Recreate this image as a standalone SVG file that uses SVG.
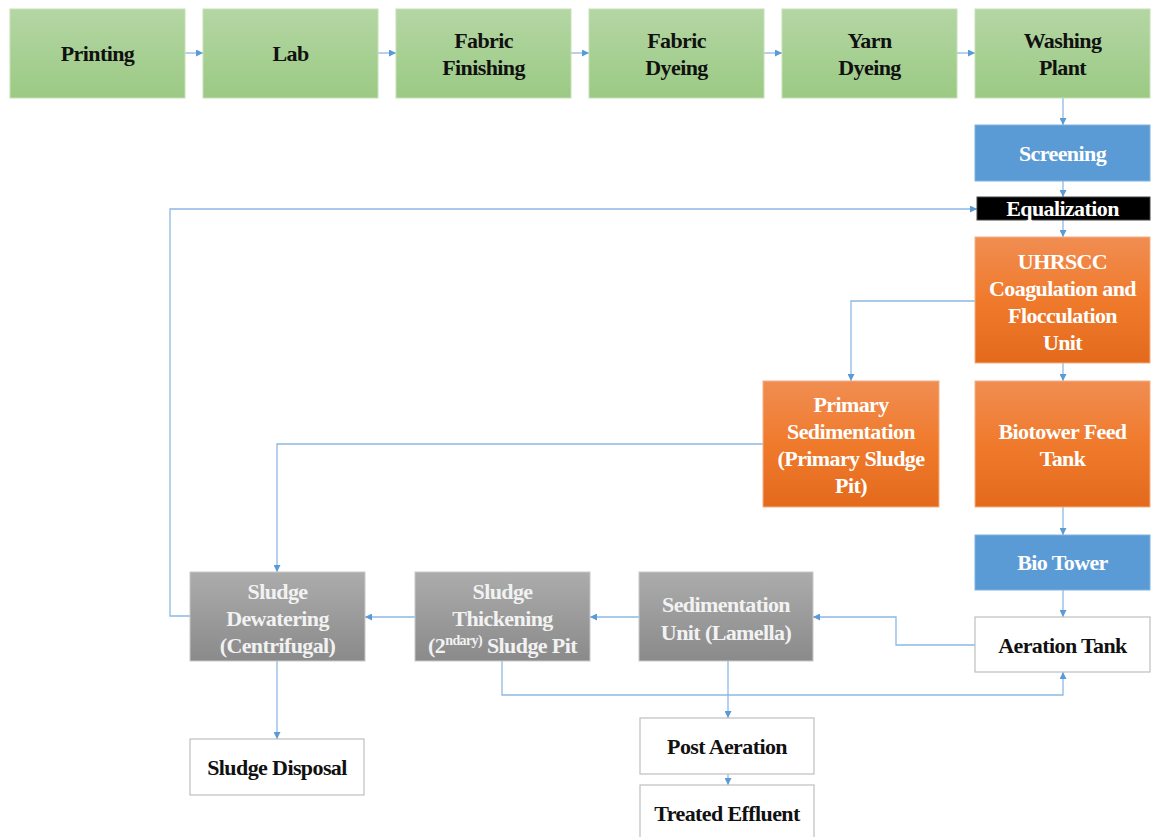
<svg xmlns="http://www.w3.org/2000/svg" width="1151" height="837" viewBox="0 0 1151 837">
  <defs>
    <linearGradient id="gGreen" x1="0" y1="0" x2="0" y2="1">
      <stop offset="0" stop-color="#b4d6a4"/>
      <stop offset="1" stop-color="#9bca84"/>
    </linearGradient>
    <linearGradient id="gOrange" x1="0" y1="0" x2="0" y2="1">
      <stop offset="0" stop-color="#f08d52"/>
      <stop offset="0.5" stop-color="#f07a2c"/>
      <stop offset="1" stop-color="#e36a1c"/>
    </linearGradient>
    <linearGradient id="gGrey" x1="0" y1="0" x2="0" y2="1">
      <stop offset="0" stop-color="#acacac"/>
      <stop offset="1" stop-color="#8a8a8a"/>
    </linearGradient>
    <marker id="arr" viewBox="0 0 10 10" refX="10" refY="5" markerWidth="7" markerHeight="7" orient="auto" markerUnits="userSpaceOnUse">
      <path d="M0,0 L10,5 L0,10 z" fill="#5b9bd5"/>
    </marker>
  </defs>
  <style>
    text { font-family: "Liberation Serif", "Times New Roman", serif; font-weight: bold; font-size: 22px; letter-spacing: -0.6px; text-anchor: middle; }
    .green { fill: url(#gGreen); stroke: #c5e0b4; stroke-width: 1; }
    .blue { fill: #5b9bd5; stroke: #7fb2e0; stroke-width: 1; }
    .orange { fill: url(#gOrange); stroke: #f4b183; stroke-width: 1; }
    .grey { fill: url(#gGrey); stroke: #c8c8c8; stroke-width: 1; }
    .white { fill: #ffffff; stroke: #bfbfbf; stroke-width: 1.2; }
    .black { fill: #000000; stroke: #444; stroke-width: 1; }
    .dark { fill: #111111; }
    .light { fill: #ffffff; }
    .soft { fill: #f2f2f2; }
    .conn { fill: none; stroke: #8db8e3; stroke-width: 1.3; }
    .conn.a { marker-end: url(#arr); }
  </style>

  <!-- connectors -->
  <g id="connectors">
    <line class="conn a" x1="185" y1="53" x2="203" y2="53"/>
    <line class="conn a" x1="378" y1="53" x2="396" y2="53"/>
    <line class="conn a" x1="571" y1="53" x2="589" y2="53"/>
    <line class="conn a" x1="764" y1="53" x2="782" y2="53"/>
    <line class="conn a" x1="957" y1="53" x2="975" y2="53"/>
    <line class="conn a" x1="1063" y1="98" x2="1063" y2="125"/>
    <line class="conn a" x1="1063" y1="181" x2="1063" y2="197"/>
    <line class="conn a" x1="1063" y1="220" x2="1063" y2="237"/>
    <polyline class="conn a" points="190,616 170,616 170,209 977,209"/>
    <polyline class="conn a" points="975,301 851,301 851,381"/>
    <line class="conn a" x1="1063" y1="363" x2="1063" y2="381"/>
    <polyline class="conn a" points="763,444 277,444 277,572"/>
    <line class="conn a" x1="1063" y1="507" x2="1063" y2="535"/>
    <line class="conn a" x1="1063" y1="590" x2="1063" y2="617"/>
    <polyline class="conn a" points="975,645 896,645 896,617 813,617"/>
    <line class="conn a" x1="639" y1="617" x2="590" y2="617"/>
    <line class="conn a" x1="415" y1="617" x2="365" y2="617"/>
    <polyline class="conn a" points="502,661 502,695 1063,695 1063,672"/>
    <line class="conn a" x1="728" y1="661" x2="728" y2="718"/>
    <line class="conn a" x1="277" y1="661" x2="277" y2="739"/>
    <line class="conn a" x1="728" y1="774" x2="728" y2="785"/>
  </g>

  <!-- process units, top row -->
  <g id="printing">
    <rect class="green" x="10" y="9" width="175" height="89"/>
    <text class="dark" x="97.5" y="61">Printing</text>
  </g>
  <g id="lab">
    <rect class="green" x="203" y="9" width="175" height="89"/>
    <text class="dark" x="290.5" y="61">Lab</text>
  </g>
  <g id="fabric-finishing">
    <rect class="green" x="396" y="9" width="175" height="89"/>
    <text class="dark" x="483.5" y="48">Fabric</text>
    <text class="dark" x="483.5" y="75">Finishing</text>
  </g>
  <g id="fabric-dyeing">
    <rect class="green" x="589" y="9" width="175" height="89"/>
    <text class="dark" x="676.5" y="48">Fabric</text>
    <text class="dark" x="676.5" y="75">Dyeing</text>
  </g>
  <g id="yarn-dyeing">
    <rect class="green" x="782" y="9" width="175" height="89"/>
    <text class="dark" x="869.5" y="48">Yarn</text>
    <text class="dark" x="869.5" y="75">Dyeing</text>
  </g>
  <g id="washing-plant">
    <rect class="green" x="975" y="9" width="175" height="89"/>
    <text class="dark" x="1062.5" y="48">Washing</text>
    <text class="dark" x="1062.5" y="75">Plant</text>
  </g>

  <!-- treatment train -->
  <g id="screening">
    <rect class="blue" x="975" y="125" width="175" height="56"/>
    <text class="light" x="1062.5" y="161">Screening</text>
  </g>
  <g id="equalization">
    <rect class="black" x="977" y="197" width="173" height="23"/>
    <text class="light" x="1062.5" y="216">Equalization</text>
  </g>
  <g id="uhrscc">
    <rect class="orange" x="975" y="237" width="175" height="126"/>
    <text class="light" x="1062.5" y="269">UHRSCC</text>
    <text class="light" x="1062.5" y="296">Coagulation and</text>
    <text class="light" x="1062.5" y="323">Flocculation</text>
    <text class="light" x="1062.5" y="350">Unit</text>
  </g>
  <g id="primary-sedimentation">
    <rect class="orange" x="763" y="381" width="176" height="126"/>
    <text class="light" x="851" y="412">Primary</text>
    <text class="light" x="851" y="439">Sedimentation</text>
    <text class="light" x="851" y="466">(Primary Sludge</text>
    <text class="light" x="851" y="493">Pit)</text>
  </g>
  <g id="biotower-feed-tank">
    <rect class="orange" x="975" y="381" width="175" height="126"/>
    <text class="light" x="1062.5" y="439">Biotower Feed</text>
    <text class="light" x="1062.5" y="466">Tank</text>
  </g>
  <g id="bio-tower">
    <rect class="blue" x="975" y="535" width="175" height="55"/>
    <text class="light" x="1062.5" y="570">Bio Tower</text>
  </g>
  <g id="aeration-tank">
    <rect class="white" x="975" y="617" width="175" height="55"/>
    <text class="dark" x="1062.5" y="653">Aeration Tank</text>
  </g>
  <g id="sedimentation-unit">
    <rect class="grey" x="639" y="572" width="174" height="89"/>
    <text class="soft" x="726" y="612">Sedimentation</text>
    <text class="soft" x="726" y="640">Unit (Lamella)</text>
  </g>
  <g id="sludge-thickening">
    <rect class="grey" x="415" y="572" width="175" height="89"/>
    <text class="soft" x="502.5" y="599">Sludge</text>
    <text class="soft" x="502.5" y="626">Thickening</text>
    <text class="soft" x="502.5" y="653">(2<tspan font-size="14" dy="-8">ndary)</tspan><tspan dy="8"> Sludge Pit</tspan></text>
  </g>
  <g id="sludge-dewatering">
    <rect class="grey" x="190" y="572" width="175" height="89"/>
    <text class="soft" x="277.5" y="599">Sludge</text>
    <text class="soft" x="277.5" y="626">Dewatering</text>
    <text class="soft" x="277.5" y="653">(Centrifugal)</text>
  </g>
  <g id="sludge-disposal">
    <rect class="white" x="190" y="739" width="174" height="56"/>
    <text class="dark" x="277" y="775">Sludge Disposal</text>
  </g>
  <g id="post-aeration">
    <rect class="white" x="640" y="718" width="174" height="56"/>
    <text class="dark" x="727" y="754">Post Aeration</text>
  </g>
  <g id="treated-effluent">
    <rect class="white" x="640" y="785" width="174" height="60"/>
    <text class="dark" x="727" y="821">Treated Effluent</text>
  </g>
</svg>
